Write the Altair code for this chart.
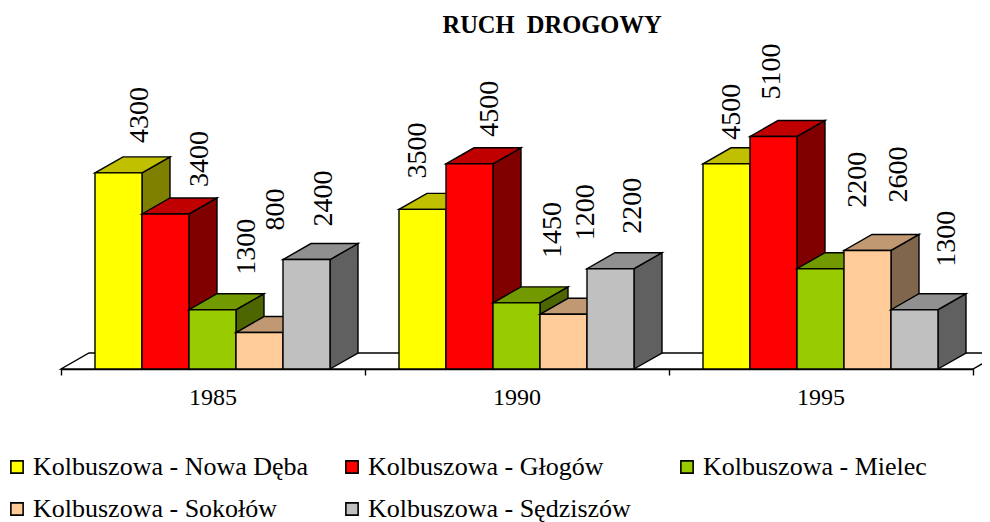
import altair as alt
import pandas as pd

# --- data -------------------------------------------------------------
YEARS = ["1985", "1990", "1995"]
SERIES = ["Kolbuszowa - Nowa Dęba", "Kolbuszowa - Głogów", "Kolbuszowa - Mielec",
          "Kolbuszowa - Sokołów", "Kolbuszowa - Sędziszów"]
NOWA_DEBA = [4300, 3500, 4500]
GLOGOW = [3400, 4500, 5100]
MIELEC = [1300, 1450, 2200]
SOKOLOW = [800, 1200, 2600]
SEDZISZOW = [2400, 2200, 1300]
VALUES = [NOWA_DEBA, GLOGOW, MIELEC, SOKOLOW, SEDZISZOW]

# --- style ------------------------------------------------------------
FRONT = ["#FFFF00", "#FF0000", "#99CC00", "#FFCC99", "#C0C0C0"]
TOPS = ["#C0C000", "#C00000", "#739900", "#C09973", "#909090"]
SIDES = ["#808000", "#800000", "#4D6600", "#80664D", "#606060"]
FONT = "Liberation Serif"
PLOT_W, PLOT_H = 912, 329
PX_PER_UNIT = 0.0456
CAT_W = PLOT_W / 3
Y_MAX = PLOT_H / PX_PER_UNIT
DX = 28 / CAT_W          # depth of the oblique projection
DY = 16 / PX_PER_UNIT
GAP = 34 / CAT_W
BAR_W = 47 / CAT_W
SW = 1.4
# label displacement (px): [series][year]
LABEL_DX = [[21, -5, 5], [34, 20, -2], [34, 36, 37], [16, 22, 31], [17, 22, 32]]
LABEL_GAP = [[30, 31, 24], [27, 27, 37], [35, 45, 61], [102, 74, 48], [33, 35, 43]]

x_scale = alt.Scale(domain=[0, 3], nice=False, zero=False)
y_scale = alt.Scale(domain=[0, Y_MAX], nice=False, zero=False)
x_axis = alt.Axis(values=[0, 1, 2, 3], labels=False, grid=False, title=None, tickColor="black",
                  domainColor="black", tickSize=6, tickWidth=1.4, domainWidth=1.4)
X = alt.X("x:Q", scale=x_scale, axis=x_axis, title=None)
Y = alt.Y("y:Q", scale=y_scale, axis=None, title=None)
Y2 = alt.Y2("y2:Q")
legend = alt.Legend(
    title=None, orient="none", legendX=-57, legendY=414, columns=3, direction="horizontal",
    gridAlign="all",
    symbolType="square", symbolSize=150, symbolStrokeColor="black",
    symbolStrokeWidth=1.6, labelFont=FONT, labelFontSize=26, labelColor="black",
    labelLimit=400, rowPadding=16, columnPadding=30, labelOffset=3,
    symbolOpacity=1,
)
color = alt.Color("series:N", scale=alt.Scale(domain=SERIES, range=FRONT), legend=legend)

layers = []

# floor
floor = pd.DataFrame({
    "x": [0, DX, 3, 3 + DX],
    "y": [0, 0, 0, DY],
    "y2": [0, DY, DY, DY],
})
layers.append(
    alt.Chart(floor).mark_area(fill="white", stroke="black", strokeWidth=SW, interpolate="linear")
    .encode(x=X, y=Y, y2=Y2)
)

labels = []
for s, name in enumerate(SERIES):
    sides, tops, fronts = [], [], []
    for c, year in enumerate(YEARS):
        v = VALUES[s][c]
        x0 = c + GAP + s * BAR_W
        x1 = x0 + BAR_W
        sides += [{"year": year, "x": x1, "y": 0, "y2": v},
                  {"year": year, "x": x1 + DX, "y": DY, "y2": v + DY}]
        tops += [{"year": year, "x": x0, "y": v, "y2": v},
                 {"year": year, "x": x0 + DX, "y": v, "y2": v + DY},
                 {"year": year, "x": x1, "y": v, "y2": v + DY},
                 {"year": year, "x": x1 + DX, "y": v + DY, "y2": v + DY}]
        fronts.append({"series": name, "x": x0, "x2": x1, "y": 0, "y2": v})
        labels.append({"label": str(v),
                       "x": (x0 + x1) / 2 + LABEL_DX[s][c] / CAT_W,
                       "y": v + LABEL_GAP[s][c] / PX_PER_UNIT})
    layers.append(alt.Chart(pd.DataFrame(sides))
                  .mark_area(fill=SIDES[s], stroke="black", strokeWidth=SW, interpolate="linear")
                  .encode(x=X, y=Y, y2=Y2, detail="year:N"))
    layers.append(alt.Chart(pd.DataFrame(tops))
                  .mark_area(fill=TOPS[s], stroke="black", strokeWidth=SW, interpolate="linear")
                  .encode(x=X, y=Y, y2=Y2, detail="year:N"))
    layers.append(alt.Chart(pd.DataFrame(fronts))
                  .mark_rect(stroke="black", strokeWidth=SW)
                  .encode(x=X, x2=alt.X2("x2:Q"), y=Y, y2=Y2, color=color))

# value labels
layers.append(alt.Chart(pd.DataFrame(labels))
              .mark_text(angle=270, align="left", baseline="middle", font=FONT, fontSize=28, color="black")
              .encode(x=X, y=Y, text="label:N"))

# category labels
cats = pd.DataFrame({"x": [i + 0.5 for i in range(3)], "y": [0, 0, 0], "label": YEARS})
layers.append(alt.Chart(cats)
              .mark_text(align="center", baseline="middle", dy=29, font=FONT, fontSize=24, color="black")
              .encode(x=X, y=Y, text="label:N"))

chart = (
    alt.layer(*layers)
    .properties(
        width=PLOT_W, height=PLOT_H,
        title=alt.TitleParams("RUCH\u00a0\u00a0DROGOWY", font=FONT, fontSize=24.5, fontWeight="bold", color="black",
                              anchor="middle", frame="group", dx=35, offset=2),
        autosize=alt.AutoSizeParams(type="none"),
        padding={"left": 53, "top": 32, "right": 9, "bottom": 153},
    )
    .configure_view(stroke=None)
)
chart.save("out.html", embed_options={"renderer": "svg", "actions": False})
